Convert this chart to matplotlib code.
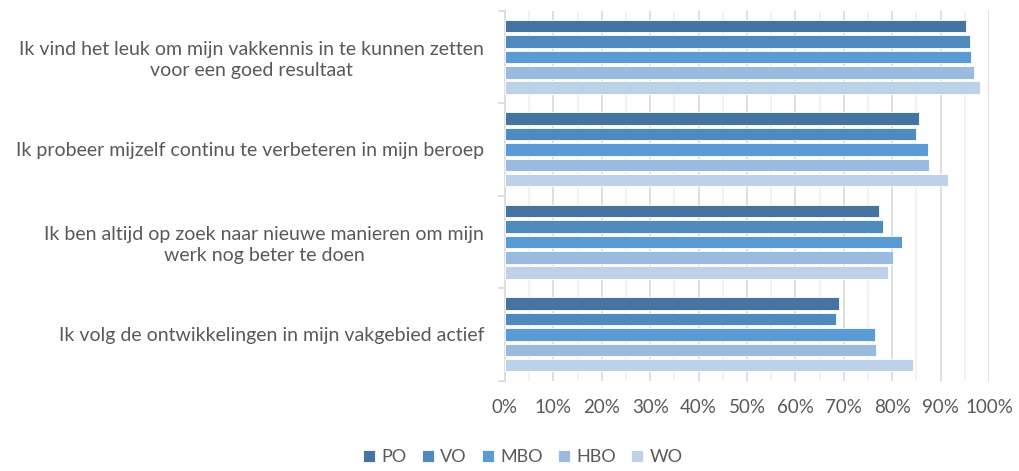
import matplotlib.pyplot as plt
import numpy as np
from matplotlib.ticker import MultipleLocator, PercentFormatter

plt.rcParams['font.family'] = ['Lato', 'DejaVu Sans']

# Data (fractions)
vragen = ["Ik vind het leuk om mijn vakkennis in te kunnen zetten\nvoor een goed resultaat",
          "Ik probeer mijzelf continu te verbeteren in mijn beroep",
          "Ik ben altijd op zoek naar nieuwe manieren om mijn\nwerk nog beter te doen",
          "Ik volg de ontwikkelingen in mijn vakgebied actief"]
reeksen = ["PO", "VO", "MBO", "HBO", "WO"]
PO = [0.952, 0.855, 0.773, 0.690]
VO = [0.961, 0.849, 0.780, 0.684]
MBO = [0.963, 0.875, 0.821, 0.764]
HBO = [0.969, 0.877, 0.802, 0.767]
WO = [0.981, 0.915, 0.791, 0.842]
kleuren = ['#44749F', '#4E8ABE', '#5B9BD5', '#9ABADF', '#BDD1EA']

fig = plt.figure(figsize=(10.2, 4.71), dpi=100)
ax = fig.add_axes([505/1020, 1-380.7/471, 484/1020, 370/471])

y = np.arange(len(vragen))
stap = 0.166
for i, (naam, waarden) in enumerate(zip(reeksen, [PO, VO, MBO, HBO, WO])):
    ax.barh(y + (i - 2) * stap, waarden, height=0.135, color=kleuren[i],
            edgecolor='white', linewidth=0.6, label=naam, zorder=3)

ax.set_xlim(0, 1)
ax.set_ylim(len(vragen) - 0.5, -0.5)

# Rasterlijnen
ax.xaxis.set_major_locator(MultipleLocator(0.1))
ax.xaxis.set_minor_locator(MultipleLocator(0.05))
ax.xaxis.set_major_formatter(PercentFormatter(1.0, decimals=0))
ax.grid(axis='x', which='major', color='#D9D9D9', linewidth=1.2, zorder=0)
ax.grid(axis='x', which='minor', color='#F0F0F0', linewidth=1.2, zorder=0)
ax.tick_params(axis='x', which='both', length=0, labelsize=13.5, labelcolor='#595959', pad=13)

ax.set_yticks(y)
ax.set_yticklabels(vragen, ha='right', multialignment='center', linespacing=1.25)
ax.set_yticks(np.arange(-0.5, len(vragen)), minor=True)
ax.tick_params(axis='y', which='major', length=0, labelsize=14, labelcolor='#595959', pad=15)
ax.tick_params(axis='y', which='minor', length=5, color='#D9D9D9', width=1.2)

for s in ['top', 'right', 'bottom']:
    ax.spines[s].set_visible(False)
ax.spines['left'].set_color('#D9D9D9')
ax.spines['left'].set_linewidth(1.2)

fig.legend(loc='center', bbox_to_anchor=(523/1020, 1-457/471), ncol=5, frameon=False,
           fontsize=13, labelcolor='#595959', handlelength=0.65, handleheight=0.65,
           handletextpad=0.35, columnspacing=0.85)

plt.savefig('out.png', dpi=100)
